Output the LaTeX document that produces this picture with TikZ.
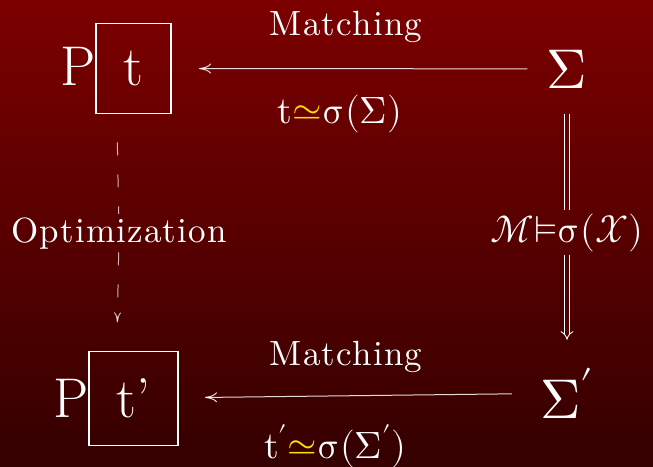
\documentclass[tikz,border=0pt]{standalone}
\usepackage{amsmath}
\usepackage[math-style=upright]{unicode-math}
\setmathfont{Latin Modern Math}
\usepackage{tikz}
\usetikzlibrary{arrows.meta}

\definecolor{bgtop}{RGB}{124,0,0}
\definecolor{bgbottom}{RGB}{52,0,0}
\definecolor{simyellow}{RGB}{255,226,0}
\definecolor{gapupper}{RGB}{100,0,0}
\definecolor{gaplower}{RGB}{78,0,0}

\newfontfamily\spacedfont{lmroman10-regular}[Extension=.otf, LetterSpace=3.5]
\newcommand{\bigtxt}{\fontsize{56}{60}\selectfont}
\newcommand{\lbltxt}{\fontsize{38}{42}\selectfont}
\newcommand{\ysim}{{\textcolor{simyellow}{\simeq}}}
\setlength{\fboxsep}{27pt}
\setlength{\fboxrule}{1.3pt}

\tikzset{
  entry/.style={text=white, inner sep=0pt, font=\bigtxt},
  bigsym/.style={text=white, font=\bigtxt, anchor=base},
  lbl/.style={text=white, font=\lbltxt, anchor=base},
  spaced/.style={text=white, anchor=base, font=\spacedfont\fontsize{35}{40}\selectfont},
  matcharrow/.style={draw=white, draw opacity=0.85, line width=1pt, -{To[length=12pt,width=10pt]}},
  optarrow/.style={draw=white, draw opacity=0.7, line width=1pt, dash pattern=on 13pt off 19pt},
  modarrow/.style={draw=white, line width=0.9pt, double distance=3.6pt}
}

\begin{document}
\begin{tikzpicture}[x=1pt, y=-1pt]
    % Background
    \shade[top color=bgtop, bottom color=bgbottom] (0,0) rectangle (653,466);
    \useasboundingbox (0,0) rectangle (653,466);
    % Nodes
    \node[entry] (pt) at (116,68.5) {P\fbox{t}};
    \node[bigsym] (sig) at (567,88) {$\Sigma$};
    \node[entry] (ptp) at (116,398.5) {P\fbox{t’}};
    \node[bigsym] (sigp) at (567,418) {$\Sigma'$};
    \node[spaced] (match) at (346,35) {Matching};
    \node[lbl] (eq) at (340,123) {$t\ysim\sigma(\Sigma)$};
    \node[spaced] (matchp) at (346,365) {Matching};
    \node[lbl] (eqp) at (335,458) {$t'\ysim\sigma(\Sigma')$};
    \node[spaced] (opt) at (119,242) {Optimization};
    \node[lbl] (mod) at (567,242) {$\mathcal{M}{\vDash}\sigma(\mathcal{X})$};
    % Edges
    \draw[matcharrow, shorten <=16pt, shorten >=27pt] (sig) -- (pt);
    \draw[matcharrow, shorten <=25pt, shorten >=26pt] (sigp) -- (ptp);
    \draw[optarrow, shorten <=28pt] (pt) -- (opt);
    \draw[optarrow, -{To[length=10pt,width=7pt]}, shorten >=28pt] (opt) -- (ptp);
    \draw[modarrow, double=gapupper, shorten <=22pt] (sig) -- (mod);
    \draw[modarrow, double=gaplower, -{Implies}, shorten >=25pt] (mod) -- (sigp);
\end{tikzpicture}
\end{document}
